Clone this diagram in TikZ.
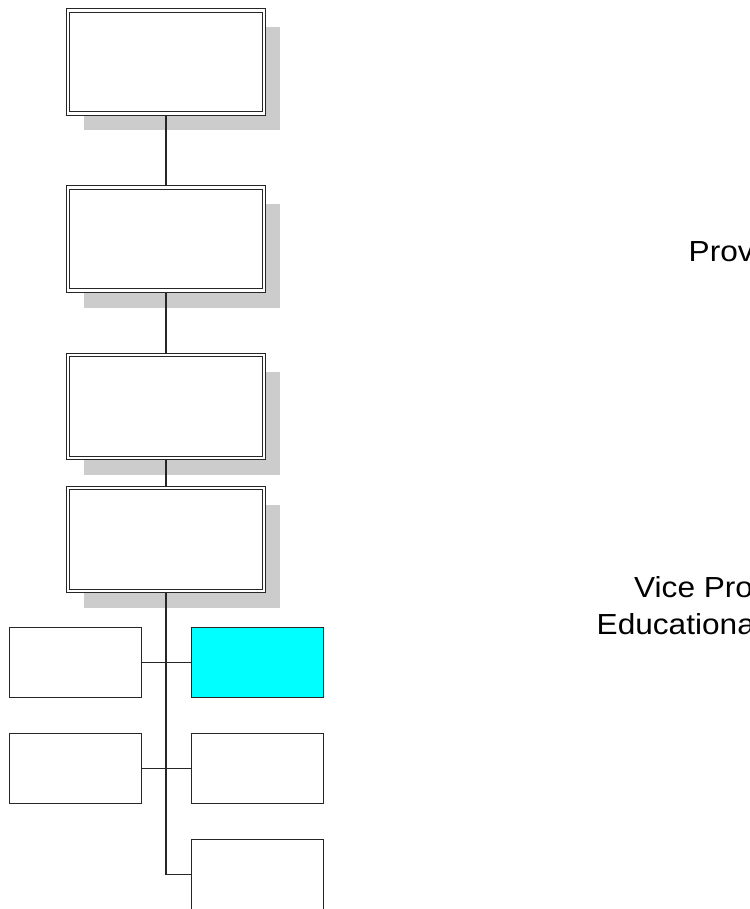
\documentclass[tikz,border=0pt]{standalone}
\usepackage{fontspec}
\setmainfont{Liberation Sans}
\newfontfamily\sidefont[FakeStretch=1.09]{Liberation Sans}
\usetikzlibrary{shadows}
\definecolor{linec}{HTML}{262626}
\definecolor{shade}{HTML}{CCCCCC}
\definecolor{hilite}{HTML}{00FFFF}
\tikzset{
  bigbox/.style={draw=linec, line width=1.35pt, double=white, double distance=2.2pt,
    fill=white, minimum width=196pt, minimum height=103pt, inner sep=0pt, outer sep=2.45pt,
    drop shadow={shadow xshift=15.5pt, shadow yshift=-17pt, fill=shade, opacity=1}},
  smallbox/.style={draw=linec, line width=1.3pt, fill=white, minimum width=132pt,
    minimum height=70pt, inner sep=0pt, outer sep=0.65pt},
  wire/.style={draw=linec, line width=1.3pt},
  sidetext/.style={anchor=base west, inner sep=0pt, font=\sidefont\fontsize{29}{36.5}\selectfont}
}
\begin{document}
\begin{tikzpicture}[x=1pt,y=-1pt]
\useasboundingbox (0,0) rectangle (749,909);
\clip (0,0) rectangle (749,909);
\fill[white] (0,0) rectangle (749,909);
% main column
\node[bigbox] (b1) at (166,62) {};
\node[bigbox] (b2) at (166,239) {};
\node[bigbox] (b3) at (166,406.5) {};
\node[bigbox] (b4) at (166,539.5) {};
% lower boxes
\node[smallbox] (l1) at (75.5,662.5) {};
\node[smallbox, fill=hilite] (r1) at (257.5,662.5) {};
\node[smallbox] (l2) at (75.5,768.5) {};
\node[smallbox] (r2) at (257.5,768.5) {};
\node[smallbox] (r3) at (257.5,874.5) {};
% connectors
\draw[wire] (b1.south) -- (b2.north);
\draw[wire] (b2.south) -- (b3.north);
\draw[wire] (b3.south) -- (b4.north);
\draw[wire] (b4.south) |- (r3.west);
\draw[wire] (l1.east) -- (r1.west);
\draw[wire] (l2.east) -- (r2.west);
% texts at right
\node[sidetext] (t1) at (688.5,261.5) {Prov};
\node[sidetext] (t2) at (634,597.5) {Vice Pro};
\node[sidetext] (t3) at (596.5,634) {Educationa};
\end{tikzpicture}
\end{document}
